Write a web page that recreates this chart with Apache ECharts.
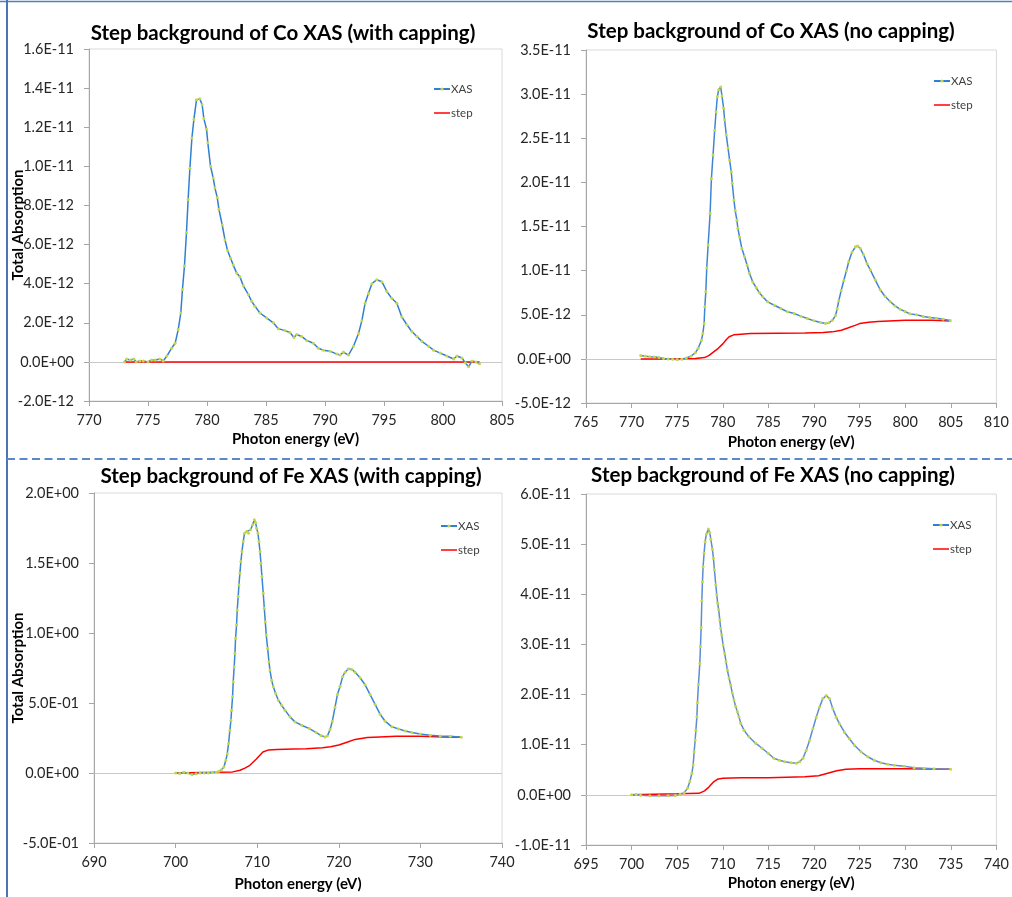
<!DOCTYPE html>
<html><head><meta charset="utf-8">
<script src="https://cdn.jsdelivr.net/npm/echarts@6/dist/echarts.min.js"></script>
<style>html,body{margin:0;padding:0;background:#fff}#c{width:1012px;height:897px}</style>
</head><body><div id="c"></div>
<script>
// ---------- DATA ----------
// Panel 1: Co XAS with capping (values in units of 1E-12)
const coCapXasE = [773.0,773.2,773.5,773.8,774.0,774.3,774.6,775.0,775.3,775.6,776.0,776.3,776.6,777.0,777.3,777.56,777.78,777.92,778.09,778.26,778.40,778.55,778.72,778.89,779.11,779.39,779.59,779.73,779.96,780.07,780.30,780.53,780.67,780.87,781.01,781.29,781.52,781.74,782.00,782.22,782.51,782.79,783.07,783.50,783.78,784.06,784.49,785.05,785.62,786.04,786.61,787.03,787.37,787.60,788.02,788.45,789.02,789.44,789.86,790.43,791.0,791.28,791.56,791.99,792.41,792.84,793.12,793.40,793.68,793.97,794.39,794.82,795.24,795.66,796.09,796.51,796.94,797.36,797.79,798.21,798.78,799.20,799.77,800.33,800.90,801.18,801.61,801.89,802.17,802.46,802.8,803.1];
const coCapXasV = [0.0,0.15,0.1,0.15,0.0,0.05,0.05,0.0,0.1,0.1,0.15,0.05,0.3,0.7,0.95,1.65,2.5,3.7,4.9,6.6,8.3,9.9,11.45,12.4,13.4,13.45,13.15,12.45,11.9,11.2,10.0,9.4,8.9,8.4,7.8,7.0,6.25,5.7,5.3,4.95,4.55,4.35,3.9,3.45,3.1,2.85,2.5,2.25,2.0,1.7,1.6,1.5,1.25,1.4,1.3,1.1,0.95,0.7,0.6,0.55,0.4,0.35,0.5,0.35,0.8,1.45,2.1,3.0,3.5,4.0,4.2,4.1,3.6,3.25,3.0,2.3,1.9,1.55,1.3,1.05,0.8,0.6,0.45,0.3,0.15,0.3,0.2,-0.05,-0.25,0.05,0.0,-0.1];
const coCapStepE = [773.0,780.0,790.0,803.1];
const coCapStepV = [0,0,0,0];

// Panel 2: Co XAS no capping (units of 1E-12)
const coNoXasE = [771.0,771.5,772.0,772.5,773.0,773.5,774.0,774.5,775.0,775.5,776.0,776.5,777.0,777.3,777.66,777.81,777.95,778.03,778.14,778.24,778.39,778.61,778.75,778.93,779.11,779.26,779.40,779.55,779.77,779.91,780.09,780.20,780.38,780.57,780.75,780.93,781.04,781.22,781.36,781.55,781.65,781.84,782.09,782.38,782.67,782.92,783.29,783.65,784.01,784.38,784.92,785.65,786.37,787.10,787.82,788.55,789.27,790.0,790.73,791.27,791.63,792.0,792.36,792.54,792.72,792.98,793.27,793.56,793.81,794.17,794.54,794.79,795.08,795.44,795.81,796.17,796.71,797.26,797.80,798.35,798.89,799.43,799.98,800.52,801.25,801.97,802.70,803.42,804.15,804.95];
const coNoXasV = [0.38,0.3,0.23,0.2,0.15,0.05,0.0,-0.05,-0.08,-0.05,0.1,0.3,0.7,1.2,2.12,2.87,4.01,5.9,7.64,10.3,12.9,16.5,20.4,23.1,25.9,28.0,29.7,30.5,30.8,29.8,28.4,27.1,25.4,23.9,22.5,21.2,19.9,18.0,16.8,15.7,14.8,13.8,12.5,11.6,10.6,9.7,8.7,8.09,7.49,7.03,6.46,6.08,5.71,5.33,5.14,4.84,4.57,4.31,4.12,4.0,4.08,4.35,4.91,5.67,6.6,7.75,8.88,10.0,11.0,12.1,12.7,12.8,12.5,11.8,10.8,10.1,8.96,7.83,7.07,6.5,6.0,5.63,5.37,5.1,4.99,4.8,4.69,4.61,4.5,4.35];
const coNoStepE = [771,774,777,778,778.5,779,779.5,780,780.4,780.7,781.2,782,783,786,789,791,792,793,793.7,794.5,795,796,797,800,803,805];
const coNoStepV = [0,0,0.05,0.15,0.4,0.8,1.2,1.7,2.2,2.5,2.72,2.8,2.87,2.9,2.93,2.98,3.06,3.25,3.5,3.8,4.0,4.16,4.23,4.39,4.39,4.3];

// Panel 3: Fe XAS with capping (absolute values)
const feCapXasE = [700.0,700.5,701.0,701.5,702.0,702.5,703.0,703.5,704.0,704.5,705.0,705.3,705.63,705.92,706.16,706.33,706.49,706.65,706.78,706.86,706.98,707.06,707.18,707.27,707.35,707.47,707.55,707.67,707.76,707.88,708.00,708.13,708.29,708.45,708.70,708.94,709.19,709.44,709.64,709.80,709.93,710.09,710.21,710.34,710.46,710.58,710.74,710.87,710.99,711.11,711.28,711.44,711.56,711.77,711.97,712.26,712.59,712.99,713.40,714.02,714.63,715.45,716.39,717.2,717.8,718.3,718.6,718.93,719.21,719.54,719.83,720.16,720.48,720.77,721.18,721.59,722.00,722.61,723.22,723.84,724.45,725.06,725.68,726.50,727.32,728.13,728.95,729.98,731.20,732.43,733.66,735.0];
const feCapXasV = [0.0,-0.003,0.005,0.0,-0.01,-0.005,0.0,0.0,0.0,0.005,0.005,0.012,0.024,0.043,0.091,0.138,0.21,0.305,0.377,0.449,0.544,0.651,0.759,0.854,0.962,1.057,1.164,1.26,1.343,1.427,1.51,1.582,1.654,1.713,1.725,1.713,1.737,1.773,1.809,1.79,1.749,1.713,1.654,1.582,1.499,1.403,1.284,1.176,1.081,0.985,0.89,0.795,0.735,0.663,0.616,0.568,0.52,0.484,0.449,0.401,0.365,0.341,0.317,0.29,0.268,0.258,0.265,0.31,0.37,0.47,0.56,0.62,0.69,0.72,0.745,0.74,0.72,0.68,0.63,0.56,0.49,0.42,0.37,0.33,0.315,0.30,0.29,0.278,0.27,0.265,0.262,0.255];
const feCapStepE = [700,705,707,707.9,708.5,709.1,709.9,710.7,711.4,712.4,714.4,716,718,719,720,721,722,723.5,725,727,730,733,735];
const feCapStepV = [0,0.005,0.008,0.02,0.035,0.055,0.10,0.15,0.165,0.168,0.172,0.174,0.18,0.187,0.2,0.22,0.24,0.253,0.258,0.262,0.262,0.258,0.255];

// Panel 4: Fe XAS no capping (units of 1E-12)
const feNoXasE = [700.0,700.5,701.0,702.0,703.0,704.0,704.8,705.3,705.77,706.13,706.39,706.61,706.75,706.86,706.97,707.05,707.16,707.22,707.33,707.48,707.55,707.63,707.70,707.77,707.84,707.95,708.06,708.20,708.42,708.57,708.68,708.86,708.97,709.08,709.23,709.34,709.44,709.55,709.67,709.77,709.88,710.03,710.21,710.35,710.50,710.68,710.87,711.04,711.23,711.41,711.59,711.77,711.96,712.32,712.86,713.59,714.31,714.97,715.6,716.2,716.8,717.5,718.06,718.43,718.79,719.15,719.52,719.88,720.25,720.61,720.97,721.34,721.70,722.06,722.43,722.79,723.34,723.88,724.43,725.16,725.88,726.61,727.34,728.07,728.79,729.89,730.98,732.07,733.16,734.98];
const feNoXasV = [0.0,0.05,-0.1,-0.2,-0.2,-0.2,-0.15,0.1,0.44,1.31,2.64,4.3,5.96,8.6,10.95,12.9,15.6,18.4,22.0,26.2,29.6,33.4,38.7,42.5,45.5,48.2,50.5,52.0,53.0,52.3,51.0,49.0,47.2,44.9,41.9,39.9,38.2,36.9,34.9,33.2,31.9,29.9,28.2,26.6,24.9,23.3,21.9,20.3,18.9,17.6,16.6,15.6,14.3,12.9,11.6,10.3,9.3,8.3,7.3,6.9,6.6,6.4,6.3,6.6,7.3,8.9,10.9,13.2,15.5,17.5,19.2,19.8,19.2,17.2,15.5,14.2,12.5,11.2,9.9,8.6,7.6,6.9,6.4,6.1,5.9,5.7,5.4,5.3,5.2,5.1];
const feNoStepE = [700,705,707.4,708,708.5,709,709.4,710,712,715,717,719,720.5,721.5,722.5,723.5,725,730,735];
const feNoStepV = [0,0.2,0.3,0.8,1.6,2.6,3.1,3.3,3.4,3.4,3.5,3.6,3.8,4.3,4.8,5.1,5.2,5.2,5.1];

const titles = ['Step background of Co XAS (with capping)','Step background of Co XAS (no capping)','Step background of Fe XAS (with capping)','Step background of Fe XAS (no capping)'];
const legendNames = ['XAS','step'];
const xTitle = 'Photon energy (eV)';
const yTitle = 'Total Absorption';

// ---------- LAYOUT ----------
const FONT = 'Lato, "Open Sans", sans-serif';
const panels = [
  {grid:{left:89,top:49,width:413,height:352}, xr:[770,805,5], yr:[-2,16,2], scale:1e-12, xE:coCapXasE, xV:coCapXasV, sE:coCapStepE, sV:coCapStepV, tx:283, ty:23, xGap:31, yName:true, yGap:63, lg:[433,83], lineColor:'#2f7fd3'},
  {grid:{left:586,top:50,width:414,height:353}, xr:[765,810,5], yr:[-5,35,5], scale:1e-12, xE:coNoXasE, xV:coNoXasV, sE:coNoStepE, sV:coNoStepV, tx:771, ty:21, xGap:32, yName:false, lg:[933,75], lineColor:'#3f86d2'},
  {grid:{left:94,top:493,width:408,height:350}, xr:[690,740,10], yr:[-0.5,2.0,0.5], scale:1, xE:feCapXasE, xV:feCapXasV, sE:feCapStepE, sV:feCapStepV, tx:291, ty:466, xGap:34, yName:true, yGap:68, lg:[440,520], lineColor:'#3a86d0'},
  {grid:{left:586,top:494,width:413,height:351}, xr:[695,740,5], yr:[-10,60,10], scale:1e-12, xE:feNoXasE, xV:feNoXasV, sE:feNoStepE, sV:feNoStepV, tx:773, ty:465, xGap:31, yName:false, lg:[932,519], lineColor:'#5b8dd0'}
];

function sci(v){
  if (Math.abs(v) < 1e-30) v = 0;
  const s = v.toExponential(1);
  const parts = s.split('e');
  const sign = parts[1][0] === '-' ? '-' : '+';
  let d = parts[1].replace(/[+-]/,'');
  if (d.length < 2) d = '0' + d;
  return parts[0] + 'E' + sign + d;
}
function zip(a,b){ return a.map((x,i)=>[x,b[i]]); }

const AX = '#a6a6a6';
const option = {animation:false, backgroundColor:'#fff', title:[], legend:[], grid:[], xAxis:[], yAxis:[], series:[],
  graphic:[
    {type:'line', shape:{x1:0,y1:1.5,x2:1012,y2:1.5}, style:{stroke:'#4f7fbf', lineWidth:1.5}, silent:true},
    {type:'line', shape:{x1:7,y1:0,x2:7,y2:897}, style:{stroke:'#4a74b4', lineWidth:2}, silent:true},
    {type:'line', shape:{x1:7,y1:459,x2:1012,y2:459}, style:{stroke:'#5b88c6', lineWidth:2, lineDash:[8,4.5]}, silent:true}
  ]};

panels.forEach((p,i)=>{
  option.grid.push(Object.assign({show:true, borderColor:'#d9d9d9', borderWidth:1, containLabel:false}, p.grid));
  option.title.push({text:titles[i], left:p.tx, top:p.ty, textAlign:'center', padding:0,
    textStyle:{fontFamily:FONT, fontWeight:'bold', fontSize:20.5, color:'#000'}});
  option.legend.push({data:[{name:legendNames[0]}, {name:legendNames[1], icon:'path://M0,0H16V1.5H0Z'}],
    orient:'vertical', left:p.lg[0], top:p.lg[1], padding:0, itemWidth:16, itemHeight:4, itemGap:12, symbolKeepAspect:true,
    textStyle:{fontFamily:FONT, fontSize:11.5, color:'#404040', padding:[0,0,0,-4]}, selectedMode:false});
  option.xAxis.push({gridIndex:i, type:'value', min:p.xr[0], max:p.xr[1], interval:p.xr[2],
    axisLine:{show:true, onZero:false, lineStyle:{color:AX}}, axisTick:{show:true, length:5, lineStyle:{color:AX}},
    axisLabel:{fontFamily:FONT, fontSize:14.5, color:'#262626', margin:12},
    splitLine:{show:false}, name:xTitle, nameLocation:'middle', nameGap:p.xGap, nameMoveOverlap:false,
    nameTextStyle:{fontFamily:FONT, fontWeight:'bold', fontSize:15, color:'#000'}});
  const sc = p.scale;
  option.yAxis.push({gridIndex:i, type:'value', min:p.yr[0], max:p.yr[1], interval:p.yr[2],
    axisLine:{show:true, lineStyle:{color:AX}}, axisTick:{show:true, length:5, lineStyle:{color:AX}},
    axisLabel:{fontFamily:FONT, fontSize:14.5, color:'#262626', margin:15, formatter:(v)=>sci(v*sc)},
    splitLine:{show:false},
    name:p.yName?yTitle:'', nameLocation:'middle', nameGap:p.yGap||0, nameMoveOverlap:false,
    nameTextStyle:{fontFamily:FONT, fontWeight:'bold', fontSize:15, color:'#000'}});
  option.series.push({name:'step', type:'line', xAxisIndex:i, yAxisIndex:i, data:zip(p.sE,p.sV),
    showSymbol:false, symbol:'none', lineStyle:{color:'#ff0000', width:1.5}, itemStyle:{color:'#ff0000'}, z:2,
    markLine:{silent:true, symbol:'none', label:{show:false}, lineStyle:{color:'#c8c8c8', type:'solid', width:1}, data:[{yAxis:0}], z:1}});
  option.series.push({name:'XAS', type:'line', xAxisIndex:i, yAxisIndex:i, data:zip(p.xE,p.xV),
    showSymbol:true, symbol:'circle', symbolSize:3, lineStyle:{color:p.lineColor, width:1.5},
    itemStyle:{color:'#c6d64a', borderWidth:0}, z:3});
});

const chart = echarts.init(document.getElementById('c'), null, {renderer:'canvas'});
chart.setOption(option);
</script></body></html>
